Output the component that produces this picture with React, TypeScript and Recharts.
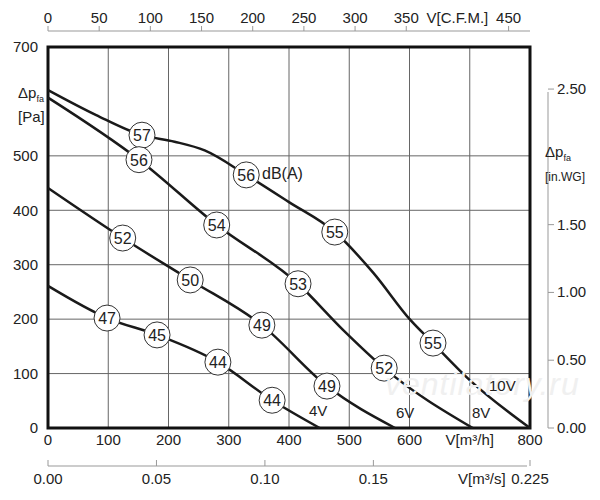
import React from "react";
import {
  LineChart,
  Line,
  XAxis,
  YAxis,
  CartesianGrid,
  ReferenceDot,
  ReferenceArea,
} from "recharts";

// fan curves: airflow [m3/h] vs static pressure [Pa]
const curve10V = [
  { q: 0, p: 621 }, { q: 80, p: 575 }, { q: 156, p: 538 }, { q: 210, p: 526 },
  { q: 260, p: 510 }, { q: 329, p: 465 }, { q: 400, p: 415 }, { q: 476, p: 360 },
  { q: 540, p: 285 }, { q: 601, p: 199 }, { q: 639, p: 156 }, { q: 700, p: 88 },
  { q: 800, p: 0 },
];
const curve8V = [
  { q: 0, p: 607 }, { q: 151, p: 493 }, { q: 280, p: 373 }, { q: 415, p: 265 },
  { q: 490, p: 180 }, { q: 558, p: 110 }, { q: 705, p: 0 },
];
const curve6V = [
  { q: 0, p: 441 }, { q: 124, p: 349 }, { q: 236, p: 272 }, { q: 355, p: 189 },
  { q: 463, p: 77 }, { q: 576, p: 0 },
];
const curve4V = [
  { q: 0, p: 261 }, { q: 98, p: 202 }, { q: 181, p: 171 }, { q: 282, p: 121 },
  { q: 372, p: 51 }, { q: 451, p: 0 },
];

// noise level markers [dB(A)]
const noiseMarks = [
  { q: 156, p: 538, db: 57 }, { q: 329, p: 465, db: 56 }, { q: 476, p: 360, db: 55 },
  { q: 639, p: 156, db: 55 }, { q: 151, p: 493, db: 56 }, { q: 280, p: 373, db: 54 },
  { q: 415, p: 265, db: 53 }, { q: 558, p: 110, db: 52 }, { q: 124, p: 349, db: 52 },
  { q: 236, p: 272, db: 50 }, { q: 355, p: 189, db: 49 }, { q: 463, p: 77, db: 49 },
  { q: 98, p: 202, db: 47 }, { q: 181, p: 171, db: 45 }, { q: 282, p: 121, db: 44 },
  { q: 372, p: 51, db: 44 },
];

const paTicks = [0, 100, 200, 300, 400, 500, 700];
const m3hTicks = [0, 100, 200, 300, 400, 500, 600, 700, 800];
const cfmTicks = [0, 50, 100, 150, 200, 250, 300, 350, 400, 450];
const inwgTicks = [0, 0.5, 1.0, 1.5, 2.0, 2.5];
const m3sTicks = [0, 0.05, 0.1, 0.15, 0.2, 0.2222];
// anchors so the secondary unit axes are bound to a (hidden) series
const cfmAnchor = [{ c: 0, w: 0 }, { c: 470.9, w: 2.8103 }];
const m3sAnchor = [{ s: 0, p: 0 }, { s: 0.2222, p: 700 }];

const FONT = "Arial, 'Liberation Sans', sans-serif";
const TXT = "#222";

const topTick = (props: any) => {
  const { x, y, payload, index } = props;
  const label = payload.value === 400 ? "V[C.F.M.]" : String(payload.value);
  return (
    <g key={`t${index}`}>
      {index === 0 && <line x1={x} x2={x + 482} y1={y - 8} y2={y - 8} stroke="#999" />}
      {payload.value !== 400 && <line x1={x} x2={x} y1={y - 8} y2={y - 13} stroke="#999" />}
      <text x={x} y={y - 16} textAnchor="middle" fontSize={15} fill={TXT} fontFamily={FONT}>{label}</text>
    </g>
  );
};

const rightTick = (props: any) => {
  const { x, y, payload, index } = props;
  if (payload.value === 2.0) return <g key={`r${index}`} />;
  return (
    <g key={`r${index}`}>
      {index === 0 && <line x1={x + 10} x2={x + 10} y1={y} y2={y - 336} stroke="#999" />}
      <line x1={x + 10} x2={x + 16} y1={y} y2={y} stroke="#999" />
      <text x={x + 19} y={y + 5} fontSize={15} fill={TXT} fontFamily={FONT}>{payload.value.toFixed(2)}</text>
    </g>
  );
};

const m3sTick = (props: any) => {
  const { x, y, payload, index } = props;
  const v = payload.value;
  const label = v === 0.2 ? "V[m³/s]" : v > 0.2 ? "0.225" : v.toFixed(2);
  return (
    <g key={`s${index}`}>
      {index === 0 && <line x1={x} x2={x + 479} y1={y + 6} y2={y + 6} stroke="#999" />}
      {v !== 0.2 && <line x1={x} x2={x} y1={y + 6} y2={y} stroke="#999" />}
      <text x={x} y={y + 24} textAnchor="middle" fontSize={15} fill={TXT} fontFamily={FONT}>{label}</text>
    </g>
  );
};

const Circle = (props: any) => {
  const { cx, cy, value } = props;
  return (
    <g>
      <circle cx={cx} cy={cy} r={13} fill="#fff" stroke="#333" strokeWidth={1} />
      <text x={cx} y={cy + 6} textAnchor="middle" fontSize={16} fill={TXT} fontFamily={FONT}>{value}</text>
    </g>
  );
};

const series = [curve10V, curve8V, curve6V, curve4V];

export default function App() {
  return (
    <div style={{ position: "relative", width: 600, height: 500, margin: -8, background: "#fff", fontFamily: FONT }}>
      <LineChart width={600} height={500} margin={{ top: 0, right: 0, bottom: 0, left: 0 }}>
        <CartesianGrid stroke="#666" strokeWidth={1} xAxisId="m3h" yAxisId="pa" />
        <XAxis xAxisId="m3h" type="number" dataKey="q" domain={[0, 800]} ticks={m3hTicks}
          tickFormatter={(v) => (v === 700 ? "V[m³/h]" : String(v))}
          height={24} tickLine={false} axisLine={false} tick={{ fontSize: 15, fill: TXT, dy: -2 }} />
        <XAxis xAxisId="m3s" type="number" dataKey="s" domain={[0, 0.2222]} ticks={m3sTicks}
          height={48} tickLine={false} axisLine={false} tick={m3sTick} />
        <XAxis xAxisId="cfm" orientation="top" type="number" dataKey="c" domain={[0, 470.9]} ticks={cfmTicks}
          height={47} tickLine={false} axisLine={false} tick={topTick} />
        <YAxis yAxisId="pa" type="number" domain={[0, 700]} ticks={paTicks} width={48}
          tickLine={false} axisLine={false} tick={{ fontSize: 15, fill: TXT, dx: -2 }} />
        <YAxis yAxisId="inwg" orientation="right" type="number" dataKey="w" domain={[0, 2.8103]} ticks={inwgTicks} width={70}
          tickLine={false} axisLine={false} tick={rightTick} />
        <Line xAxisId="cfm" yAxisId="inwg" data={cfmAnchor} dataKey="w" stroke="none" dot={false} isAnimationActive={false} />
        <Line xAxisId="m3s" yAxisId="pa" data={m3sAnchor} dataKey="p" stroke="none" dot={false} isAnimationActive={false} />
        {series.map((d, i) => (
          <Line key={i} xAxisId="m3h" yAxisId="pa" data={d} dataKey="p" type="monotone"
            stroke="#1a1a1a" strokeWidth={2.5} dot={false} isAnimationActive={false} />
        ))}
        <ReferenceArea xAxisId="m3h" yAxisId="pa" x1={0} x2={800} y1={0} y2={700}
          fill="none" stroke="#111" strokeWidth={3} ifOverflow="visible" />
        {noiseMarks.map((m, i) => (
          <ReferenceDot key={i} xAxisId="m3h" yAxisId="pa" x={m.q} y={m.p} r={13}
            shape={(p: any) => <Circle {...p} value={m.db} />} />
        ))}
      </LineChart>
      <div style={{ position: "absolute", left: 18, top: 84, fontSize: 15, color: TXT, lineHeight: "17px" }}>
        Δp<sub style={{ fontSize: 9 }}>fa</sub><br />[Pa]
      </div>
      <div style={{ position: "absolute", left: 545, top: 143, fontSize: 15, color: TXT, lineHeight: "17px" }}>
        Δp<sub style={{ fontSize: 9 }}>fa</sub><br /><span style={{ fontSize: 12 }}>[in.WG]</span>
      </div>
      <div style={{ position: "absolute", left: 262, top: 165, fontSize: 16, color: TXT }}>dB(A)</div>
      <div style={{ position: "absolute", left: 385, top: 366, fontSize: 32, color: "#f0f0f0", fontStyle: "italic", letterSpacing: 1 }}>ventilatory.ru</div>
      <div style={{ position: "absolute", left: 309, top: 402, fontSize: 15, color: TXT }}>4V</div>
      <div style={{ position: "absolute", left: 396, top: 404, fontSize: 15, color: TXT }}>6V</div>
      <div style={{ position: "absolute", left: 472, top: 404, fontSize: 15, color: TXT }}>8V</div>
      <div style={{ position: "absolute", left: 489, top: 377, fontSize: 15, color: TXT }}>10V</div>
    </div>
  );
}
